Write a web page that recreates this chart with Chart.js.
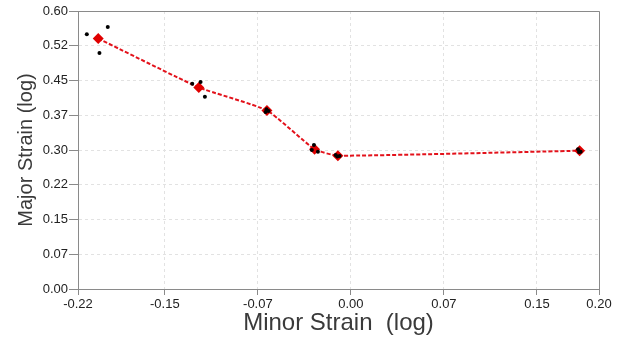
<!DOCTYPE html>
<html>
<head>
<meta charset="utf-8">
<script src="https://cdn.jsdelivr.net/npm/chart.js@4.4.0/dist/chart.umd.min.js"></script>
<style>
html,body{margin:0;padding:0;background:#fff;}
#wrap{width:627px;height:340px;}
</style>
</head>
<body>
<div id="wrap"><canvas id="c" width="627" height="340"></canvas></div>
<script>
// ---- data ----
const meanMinor = [-0.2037, -0.1226, -0.0677, -0.0293, -0.0105, 0.1844];
const meanMajor = [0.5406, 0.4351, 0.3855, 0.3015, 0.2877, 0.2985];

const sampleMinor = [-0.2129, -0.1960, -0.2027,
                     -0.1279, -0.1212, -0.1177,
                     -0.0680, -0.0688, -0.0664,
                     -0.0298, -0.0315, -0.0266,
                     -0.0123, -0.0091, -0.0110,
                      0.1831,  0.1852,  0.1839];
const sampleMajor = [0.5499, 0.5656, 0.5096,
                     0.4428, 0.4465, 0.4148,
                     0.3880, 0.3820, 0.3840,
                     0.3108, 0.3000, 0.2964,
                     0.2893, 0.2871, 0.2860,
                     0.3015, 0.2964, 0.2957];

const xTickValues = [-0.22, -0.15, -0.075, 0, 0.075, 0.15, 0.20];
const xTickLabels = ["-0.22", "-0.15", "-0.07", "0.00", "0.07", "0.15", "0.20"];
const yTickValues = [0, 0.075, 0.15, 0.225, 0.30, 0.375, 0.45, 0.525, 0.60];
const yTickLabels = ["0.00", "0.07", "0.15", "0.22", "0.30", "0.37", "0.45", "0.52", "0.60"];

const xTitle = "Minor Strain  (log)";
const yTitle = "Major Strain (log)";

// ---- build ----
const toPts = (xs, ys) => xs.map((x, i) => ({x: x, y: ys[i]}));

const framePlugin = {
  id: 'frame',
  beforeDatasetsDraw(chart) {
    const a = chart.chartArea, ctx = chart.ctx;
    ctx.save();
    ctx.strokeStyle = '#8a8a8a';
    ctx.lineWidth = 1;
    ctx.beginPath();
    ctx.moveTo(Math.round(a.left) + 0.5, Math.round(a.top) + 0.5);
    ctx.lineTo(Math.round(a.right) + 0.5, Math.round(a.top) + 0.5);
    ctx.lineTo(Math.round(a.right) + 0.5, Math.round(a.bottom) + 0.5);
    ctx.stroke();
    ctx.restore();
  }
};

const tickFont = {family: "'Liberation Sans', Arial, sans-serif", size: 13};

new Chart(document.getElementById('c'), {
  type: 'scatter',
  data: {
    datasets: [
      {
        label: 'samples',
        data: toPts(sampleMinor, sampleMajor),
        pointRadius: 2,
        pointBackgroundColor: '#000',
        pointBorderWidth: 0,
        showLine: false,
        order: 0
      },
      {
        label: 'mean',
        data: toPts(meanMinor, meanMajor),
        showLine: true,
        borderColor: '#e3121b',
        borderWidth: 2,
        borderDash: [4, 2],
        tension: 0.15,
        pointStyle: 'rectRot',
        pointRadius: 5.5,
        pointBackgroundColor: '#e00000',
        pointBorderColor: '#e00000',
        pointBorderWidth: 0,
        order: 1
      }
    ]
  },
  options: {
    responsive: false,
    animation: false,
    devicePixelRatio: 1,
    layout: {padding: {left: 0, right: 28, top: 11, bottom: 0}},
    plugins: {legend: {display: false}, tooltip: {enabled: false}},
    scales: {
      x: {
        type: 'linear',
        min: -0.22,
        max: 0.20,
        afterBuildTicks: s => { s.ticks = xTickValues.map(v => ({value: v})); },
        afterFit: s => { s.height = 51; },
        ticks: {
          autoSkip: false,
          maxRotation: 0,
          padding: 2,
          color: '#222',
          font: tickFont,
          callback: (v, i) => xTickLabels[i]
        },
        grid: {
          color: '#e2e2e2',
          lineWidth: 1,
          drawTicks: true,
          tickLength: 6,
          tickColor: '#8a8a8a',
          tickBorderDash: []
        },
        border: {display: true, color: '#8a8a8a', width: 1, dash: [3, 3]},
        title: {
          display: true,
          text: xTitle,
          color: '#3a3a3a',
          font: {family: "'Liberation Sans', Arial, sans-serif", size: 24},
          padding: {top: 0, bottom: 2}
        }
      },
      y: {
        type: 'linear',
        min: 0,
        max: 0.60,
        afterBuildTicks: s => { s.ticks = yTickValues.map(v => ({value: v})); },
        afterFit: s => { s.width = 78; },
        ticks: {
          autoSkip: false,
          padding: 1,
          color: '#222',
          font: tickFont,
          callback: (v, i) => yTickLabels[i]
        },
        grid: {
          color: '#e2e2e2',
          lineWidth: 1,
          drawTicks: true,
          tickLength: 9,
          tickColor: '#8a8a8a',
          tickBorderDash: []
        },
        border: {display: true, color: '#8a8a8a', width: 1, dash: [3, 3]},
        title: {
          display: true,
          text: yTitle,
          color: '#3a3a3a',
          font: {family: "'Liberation Sans', Arial, sans-serif", size: 20},
          padding: {top: 14, bottom: 0}
        }
      }
    }
  },
  plugins: [framePlugin]
});
</script>
</body>
</html>
